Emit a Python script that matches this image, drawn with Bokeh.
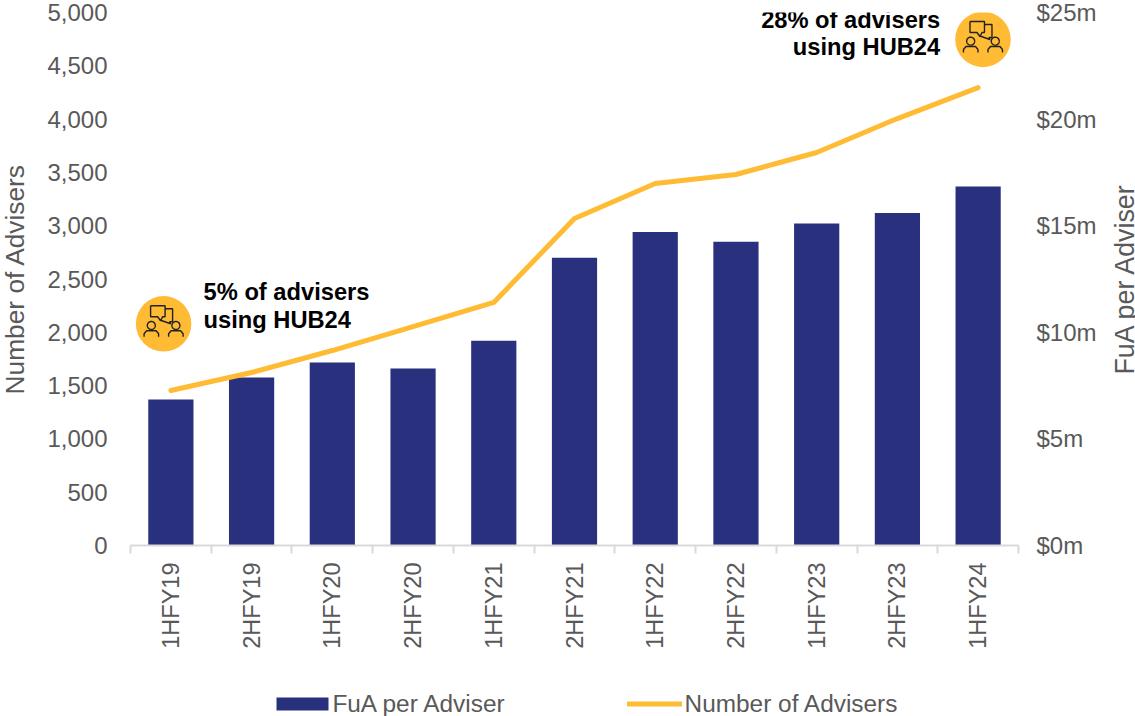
import math
import numpy as np
from bokeh.plotting import figure
from bokeh.models import Range1d, LinearAxis, FixedTicker, ColumnDataSource
from bokeh.core.properties import value
from bokeh.embed import file_html
from bokeh.resources import INLINE

categories = ["1HFY19", "2HFY19", "1HFY20", "2HFY20", "1HFY21", "2HFY21",
              "1HFY22", "2HFY22", "1HFY23", "2HFY23", "1HFY24"]
fua_per_adviser = [6.85, 7.88, 8.58, 8.30, 9.60, 13.50, 14.70, 14.25, 15.10, 15.60, 16.84]
num_advisers = [1454, 1623, 1829, 2054, 2280, 3068, 3396, 3480, 3687, 4005, 4296]
left_ticks = [0, 500, 1000, 1500, 2000, 2500, 3000, 3500, 4000, 4500, 5000]
left_labels = ["0", "500", "1,000", "1,500", "2,000", "2,500", "3,000", "3,500", "4,000", "4,500", "5,000"]
right_ticks = [0, 5, 10, 15, 20, 25]
right_labels = ["$0m", "$5m", "$10m", "$15m", "$20m", "$25m"]
legend_labels = ["FuA per Adviser", "Number of Advisers"]

NAVY = "#29317F"
GOLD = "#FFBB33"
GREY = "#595959"
FONT = "Liberation Sans"

L, R, T, B = 138, 150, 20, 200
W, H = L + 888 + R, T + 533 + B

p = figure(width=W, height=H, output_backend="svg", toolbar_location=None,
           x_range=Range1d(0, len(categories)), y_range=Range1d(0, 5000),
           min_border_left=L, min_border_right=R, min_border_top=T, min_border_bottom=B,
           margin=(-8, -8, -8, -8), outline_line_color=None,
           x_axis_location="below", y_axis_location="left")
p.grid.visible = False
p.extra_y_ranges = {"fua": Range1d(0, 25)}

xs = [i + 0.5 for i in range(len(categories))]

# axes
xa = p.xaxis[0]
xa.ticker = FixedTicker(ticks=xs, minor_ticks=list(range(len(categories) + 1)))
xa.major_label_overrides = {x: c for x, c in zip(xs, categories)}
xa.major_label_orientation = math.pi / 2
xa.major_tick_line_color = None
xa.major_tick_out = 0
xa.major_tick_in = 0
xa.minor_tick_line_color = "#D9D9D9"
xa.minor_tick_line_width = 2
xa.minor_tick_out = 8
xa.minor_tick_in = 0
xa.axis_line_color = "#D9D9D9"
xa.axis_line_width = 2
xa.major_label_standoff = 9
xa.major_label_text_font = FONT
xa.major_label_text_font_size = "23.5px"
xa.major_label_text_color = GREY

ya = p.yaxis[0]
ya.ticker = FixedTicker(ticks=left_ticks)
ya.major_label_overrides = {t: s for t, s in zip(left_ticks, left_labels)}
ya.axis_line_color = None
ya.major_tick_line_color = None
ya.minor_tick_line_color = None
ya.major_label_standoff = 17
ya.major_label_text_font = FONT
ya.major_label_text_font_size = "24px"
ya.major_label_text_color = GREY
ya.axis_label = "Number of Advisers"
ya.axis_label_text_font = FONT
ya.axis_label_text_font_size = "26.3px"
ya.axis_label_text_font_style = "normal"
ya.axis_label_text_color = GREY
ya.axis_label_standoff = 14

ra = LinearAxis(y_range_name="fua", ticker=FixedTicker(ticks=right_ticks))
ra.major_label_overrides = {t: s for t, s in zip(right_ticks, right_labels)}
ra.axis_line_color = None
ra.major_tick_line_color = None
ra.minor_tick_line_color = None
ra.major_label_standoff = 12
ra.major_label_text_font = FONT
ra.major_label_text_font_size = "24px"
ra.major_label_text_color = GREY
p.add_layout(ra, "right")

# data marks
src = ColumnDataSource(dict(x=xs, fua=fua_per_adviser, adv=num_advisers))
bars = p.vbar(x="x", top="fua", width=0.56, bottom=0, source=src, y_range_name="fua",
              fill_color=NAVY, line_color=None)
line = p.line(x="x", y="adv", source=src, line_color=GOLD, line_width=5,
              line_cap="round", line_join="round")

kx = len(categories) / (W - L - R)
ky = 5000 / (H - T - B)


def arc(cx, cy, r, a0=0, a1=360, n=40):
    a = np.radians(np.linspace(a0, a1, n))
    return list(cx + r * np.cos(a)), list(cy + r * np.sin(a))


def badge(x, y):
    p.scatter([x], [y], size=55.5, marker="circle", fill_color=GOLD, line_color=None)
    shapes = [
        ([-13, 1.5, 1.5, -1, -3, -6, -13, -13], [-18, -18, -7, -7, -3, -7, -7, -18]),
        ([1.5, 9, 9, 6, 7, -3], [-15, -15, -2, -2, 0, -3.5]),
        arc(-12.3, 1.7, 4),
        arc(12.3, 1.7, 4),
        ([-19.5, -19.5, -17, -7.5, -5, -5], [13, 10, 7, 7, 10, 13]),
        ([5, 5, 7.5, 17, 19.5, 19.5], [13, 10, 7, 7, 10, 13]),
    ]
    mx = [[x + v * kx for v in s[0]] for s in shapes]
    my = [[y - v * ky for v in s[1]] for s in shapes]
    p.multi_line(mx, my, line_color="#222222", line_width=1.4)


badge(0.41, 2080)
badge(10.56, 4747)

notes_left = ["5% of advisers", "using HUB24"]
notes_right = ["28% of advisers", "using HUB24"]
p.text(x=[0.905, 0.905], y=[2378, 2115], text=notes_left, text_align="left", text_baseline="middle",
       text_font=value(FONT), text_font_size="23.7px", text_font_style="bold", text_color="black")
p.text(x=[10.03, 10.03], y=[4934, 4672], text=notes_right, text_align="right", text_baseline="middle",
       text_font=value(FONT), text_font_size="23.7px", text_font_style="bold", text_color="black")

# Everything that lies outside the frame is carried by stacked axes in the side
# panels, because annotations out there do not paint with this backend.
title_tick = 1604
right_title = LinearAxis(ticker=FixedTicker(ticks=[title_tick]))
right_title.major_label_overrides = {title_tick: "FuA per Adviser"}
right_title.major_label_orientation = math.pi / 2
right_title.major_label_standoff = 26
right_title.major_label_text_font = FONT
right_title.major_label_text_font_size = "26.8px"
right_title.major_label_text_color = GREY
right_title.axis_line_color = None
right_title.major_tick_line_color = None
right_title.minor_tick_line_color = None
right_title.major_tick_out = 0
right_title.major_tick_in = 0
p.add_layout(right_title, "right")

legend_x = [3.584, 8.19]
leg_text = LinearAxis(ticker=FixedTicker(ticks=legend_x))
leg_text.major_label_overrides = {x: s for x, s in zip(legend_x, legend_labels)}
leg_text.major_label_standoff = 38
leg_text.major_label_text_font = FONT
leg_text.major_label_text_font_size = "24.4px"
leg_text.major_label_text_color = GREY
leg_text.axis_line_color = None
leg_text.major_tick_line_color = None
leg_text.minor_tick_line_color = None
leg_text.major_tick_out = 0
leg_text.major_tick_in = 0
p.add_layout(leg_text, "below")

# legend swatches: the ticks of one more axis, drawn back up towards the legend text
swatch_bar_x, swatch_line_x = 2.131, 6.497
sw = LinearAxis(ticker=FixedTicker(ticks=[swatch_bar_x], minor_ticks=[swatch_line_x]))
sw.major_label_overrides = {swatch_bar_x: ""}
sw.major_label_text_color = None
sw.axis_line_color = None
sw.major_tick_line_color = NAVY
sw.major_tick_line_width = 52
sw.major_tick_line_cap = "butt"
sw.major_tick_in = 22
sw.major_tick_out = -9
sw.minor_tick_line_color = GOLD
sw.minor_tick_line_width = 55
sw.minor_tick_line_cap = "butt"
sw.minor_tick_in = 18
sw.minor_tick_out = -13
p.add_layout(sw, "below")

html = file_html(p, INLINE).replace("<head>", "<head><style>html,body{overflow:hidden}</style>", 1)
open("out.html", "w").write(html)
